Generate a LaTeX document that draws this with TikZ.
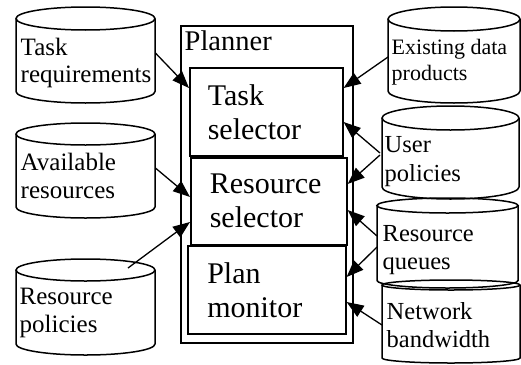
\documentclass[tikz,border=0pt]{standalone}
\usepackage{fontspec}
\setmainfont{Liberation Serif}
\usetikzlibrary{arrows.meta,calc}
\newcommand\mkcyl[6]{% name, xl, yt, xr, yb, ry
  \node[cylbox, minimum width={#4-#2}, minimum height={#5-#3}, anchor=north west] (#1) at (#2,-#3) {};
  \draw[cylline] (#2,-#3-#6) -- (#2,-#5+#6) arc[start angle=180, end angle=360, x radius={(#4-#2)/2}, y radius=#6] -- (#4,-#3-#6);
  \draw[cylline] ({(#2+#4)/2},-#3-#6) ellipse[x radius={(#4-#2)/2}, y radius=#6];
}
\tikzset{
  cylbox/.style={draw=none, inner sep=0pt, rectangle},
  cylline/.style={line width=1.5pt, black},
  boxstyle/.style={draw, line width=1.6pt, rectangle, inner sep=0pt, anchor=north west, align=left},
  lbl/.style={anchor=north west, inner sep=0pt, align=left},
  arr/.style={line width=1.3pt, -{Triangle[length=17pt,width=13pt]}},
}
\begin{document}
\begin{tikzpicture}[x=1pt,y=1pt]
\useasboundingbox (0,0) rectangle (521,-364);
% planner frame
\node[boxstyle, minimum width=172, minimum height=317] (planner) at (180,-25) {};
\node[lbl, font=\fontsize{28.5}{32}\selectfont] (plannerlbl) at (184.5,-30.5) {Planner};
% inner boxes
\node[boxstyle, minimum width=153, minimum height=88, text width=117, font=\fontsize{30}{34}\selectfont] (ts) at (189,-67) {Task\\selector};
\node[boxstyle, minimum width=156, minimum height=87, text width=118, font=\fontsize{30}{34}\selectfont] (rs) at (190,-157) {Resource\\selector};
\node[boxstyle, minimum width=158, minimum height=88, text width=119, font=\fontsize{30}{34}\selectfont] (pm) at (187,-245) {Plan\\monitor};
% left stores
\mkcyl{treq}{16}{7}{155}{103}{11.5}
\node[lbl, font=\fontsize{25}{27}\selectfont] (treqt) at (20.5,-38) {Task\\requirements};
\mkcyl{avail}{16}{123}{155}{218}{11}
\node[lbl, font=\fontsize{25}{28}\selectfont] (availt) at (20.5,-153) {Available\\resources};
\mkcyl{rpol}{16}{259}{155}{355}{11}
\node[lbl, font=\fontsize{25}{28}\selectfont] (rpolt) at (19.5,-288) {Resource\\policies};
% right stores
\mkcyl{exist}{388}{7}{520}{103}{12}
\node[lbl, font=\fontsize{22}{26}\selectfont] (existt) at (391.5,-39) {Existing data\\products};
\mkcyl{upol}{382}{106}{519}{199}{12}
\node[lbl, font=\fontsize{24.5}{29}\selectfont] (upolt) at (384.5,-136) {User\\policies};
\mkcyl{rq}{377}{198}{518}{288}{7.5}
\node[lbl, font=\fontsize{24.5}{28}\selectfont] (rqt) at (382.5,-225) {Resource\\queues};
\mkcyl{nb}{382}{280}{520}{363}{5}
\node[lbl, font=\fontsize{24.5}{28}\selectfont] (nbt) at (386.5,-302) {Network\\bandwidth};
% connectors
\draw[arr] ($(treq.north east)+(0,-46)$) -- ($(ts.north west)+(0,-21)$);
\draw[arr] ($(avail.north east)+(0,-45)$) -- ($(rs.north west)+(0,-40)$);
\draw[arr] ($(rpol.north west)+(112,-9)$) -- ($(rs.north west)+(0,-65)$);
\draw[arr] ($(exist.north west)+(0,-50)$) -- ($(ts.north east)+(0,-21)$);
\draw[arr] ($(upol.north west)+(-2,-47)$) -- ($(ts.north east)+(0,-55)$);
\draw[arr] ($(upol.north west)+(-2,-49)$) -- ($(rs.north east)+(0,-27)$);
\draw[arr] ($(rq.north west)+(0,-38)$) -- ($(rs.north east)+(0,-53)$);
\draw[arr] ($(rq.north west)+(0,-49)$) -- ($(pm.north east)+(0,-32)$);
\draw[arr] ($(nb.north west)+(0,-45)$) -- ($(pm.north east)+(0,-57)$);
\end{tikzpicture}
\end{document}
